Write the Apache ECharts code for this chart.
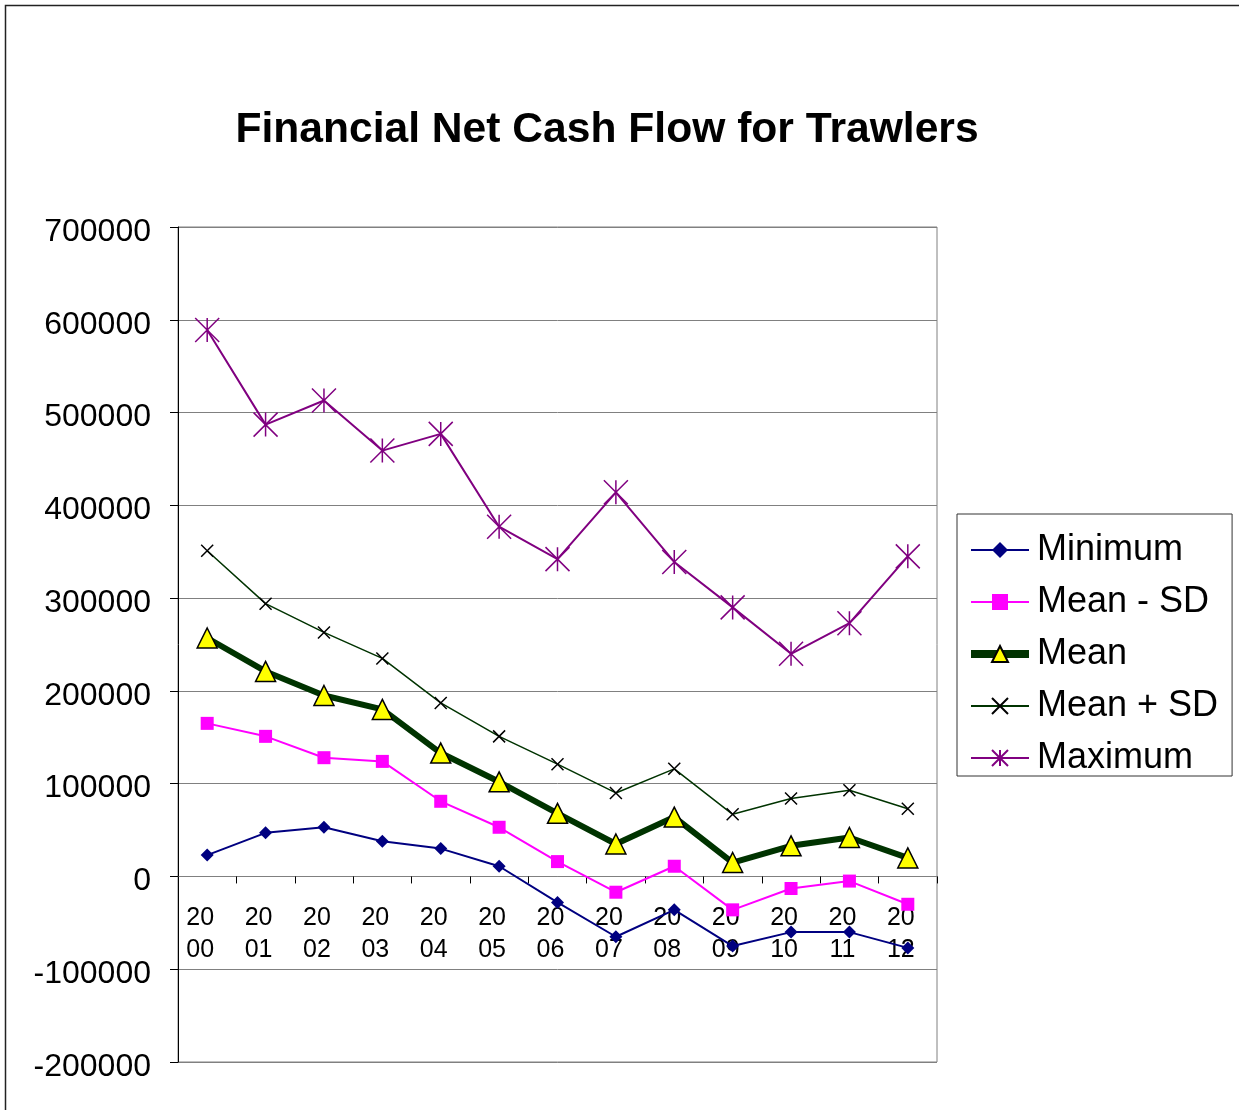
<!DOCTYPE html>
<html><head><meta charset="utf-8">
<script src="https://cdn.jsdelivr.net/npm/echarts@6/dist/echarts.min.js"></script>
<style>html,body{margin:0;padding:0;background:#fff}#c{width:1239px;height:1110px}</style>
</head><body><div id="c"></div>
<script>
const years = ['2000','2001','2002','2003','2004','2005','2006','2007','2008','2009','2010','2011','2012'];
const minimum = [23000, 47000, 53000, 38000, 30000, 11000, -28000, -65000, -36000, -75000, -60000, -60000, -77000];
const meanMinusSD = [165000, 151000, 128000, 124000, 81000, 53000, 16000, -17000, 11000, -36000, -13000, -5000, -30000];
const mean = [257000, 221000, 195000, 180000, 133000, 102000, 68000, 35000, 64000, 15000, 33000, 42000, 20000];
const meanPlusSD = [351000, 294000, 263000, 235000, 187000, 151000, 121000, 90000, 116000, 67000, 84000, 93000, 73000];
const maximum = [589000, 487000, 513000, 459000, 477000, 377000, 342000, 414000, 339000, 290000, 240000, 273000, 345000];
const yTicks = {min: -200000, max: 700000, interval: 100000};

const font = '"Liberation Sans", Arial, sans-serif';
const gridTop = 227, gridBottom = 48, chartH = 1110;
const plotH = chartH - gridTop - gridBottom;
// offset of the zero line above the plot bottom, computed from the axis range
const zeroOffset = plotH * (0 - yTicks.min) / (yTicks.max - yTicks.min);

const chart = echarts.init(document.getElementById('c'));
chart.setOption({
  animation: false,
  backgroundColor: '#fff',
  title: {
    text: 'Financial Net Cash Flow for Trawlers',
    left: 602, top: 101, textAlign: 'center',
    textStyle: {fontFamily: font, fontSize: 42.6, fontWeight: 'bold', color: '#000', lineHeight: 48}
  },
  graphic: [{
    type: 'rect', shape: {x: 5.5, y: 5.5, width: 1300, height: 1200},
    style: {fill: 'none', stroke: '#222', lineWidth: 1.5}, z: -1
  }],
  legend: {
    left: 957, top: 514,
    orient: 'vertical',
    backgroundColor: '#fff',
    borderColor: '#333', borderWidth: 1,
    padding: [18, 14, 0, 10],
    itemWidth: 58, itemHeight: 20, itemGap: 16,
    textStyle: {fontFamily: font, fontSize: 36, color: '#000', lineHeight: 36, padding: [0, 0, 0, 3]},
    data: [
      {name: 'Minimum'},
      {name: 'Mean - SD'},
      {name: 'Mean', lineStyle: {width: 8}},
      {name: 'Mean + SD'},
      {name: 'Maximum'}
    ]
  },
  grid: {left: 178, right: 302, top: gridTop, bottom: gridBottom, show: true, borderColor: '#808080', borderWidth: 1, outerBoundsMode: 'none', containLabel: false},
  xAxis: {
    type: 'category', data: years, boundaryGap: true,
    position: 'bottom', offset: -zeroOffset,
    axisLine: {onZero: false, lineStyle: {color: '#808080', width: 1}},
    axisTick: {show: true, length: 7, lineStyle: {color: '#000'}},
    axisLabel: {
      interval: 0, margin: 26, color: '#000', fontFamily: font, fontSize: 25, lineHeight: 32,
      padding: [0, 14, 0, 0],
      formatter: v => v.slice(0, 2) + '\n' + v.slice(2)
    },
    splitLine: {show: false}
  },
  yAxis: {
    type: 'value', min: yTicks.min, max: yTicks.max, interval: yTicks.interval,
    axisLine: {show: true, lineStyle: {color: '#000', width: 1}},
    axisTick: {show: true, length: 8, lineStyle: {color: '#000'}},
    axisLabel: {margin: 27, color: '#000', fontFamily: font, fontSize: 32, verticalAlign: 'top', lineHeight: 10, formatter: v => String(v)},
    splitLine: {lineStyle: {color: '#808080', width: 1}}
  },
  series: [
    {
      name: 'Minimum', type: 'line', data: minimum,
      symbol: 'diamond', symbolSize: 13,
      lineStyle: {color: '#000080', width: 2},
      itemStyle: {color: '#000080'}
    },
    {
      name: 'Mean - SD', type: 'line', data: meanMinusSD,
      symbol: 'rect', symbolSize: 13,
      lineStyle: {color: '#FF00FF', width: 2},
      itemStyle: {color: '#FF00FF'}
    },
    {
      name: 'Mean', type: 'line', data: mean,
      symbol: 'triangle', symbolSize: 20,
      lineStyle: {color: '#003300', width: 6},
      itemStyle: {color: '#FFFF00', borderColor: '#000', borderWidth: 1.5}
    },
    {
      name: 'Mean + SD', type: 'line', data: meanPlusSD,
      symbol: 'path://M0 0L10 10M10 0L0 10', symbolSize: 12,
      lineStyle: {color: '#003300', width: 1.5},
      itemStyle: {color: 'none', borderColor: '#000', borderWidth: 1.5}
    },
    {
      name: 'Maximum', type: 'line', data: maximum,
      symbol: 'path://M0 0L10 10M10 0L0 10M5 0L5 10', symbolSize: 24,
      lineStyle: {color: '#800080', width: 2},
      itemStyle: {color: 'none', borderColor: '#800080', borderWidth: 1.5}
    }
  ]
});
</script></body></html>
